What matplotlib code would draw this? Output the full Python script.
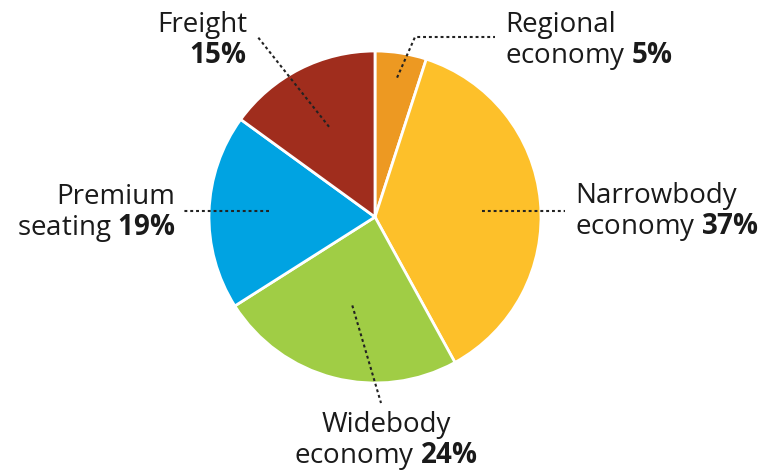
import numpy as np
import matplotlib.pyplot as plt

W, H = 769, 471

categories = ["Regional\neconomy", "Narrowbody\neconomy", "Widebody\neconomy",
              "Premium\nseating", "Freight"]
shares = [5, 37, 24, 19, 15]
colors = ["#ED9922", "#FDC02A", "#A0CD45", "#00A3E2", "#A02D1D"]

# layout in pixel units measured from the top-left corner
cx, cy, R = 375, 217, 166
leaders = [
    dict(r=0.85, path=[(415, 37), (495, 37)], text=(505, 32), ha="left", horiz=False),
    dict(r=0.65, path=[(565, 211)], text=(575, 203), ha="left", horiz=True),
    dict(r=0.55, path=[(381, 403)], text=(386, 432), ha="center", horiz=False),
    dict(r=0.64, path=[(183, 211)], text=(175, 204), ha="right", horiz=True),
    dict(r=0.61, path=[(257, 36)], text=(247, 32), ha="right", horiz=False),
]
LINE = 31

plt.rcParams["font.family"] = ["Open Sans", "DejaVu Sans"]
plt.rcParams["mathtext.fontset"] = "custom"
plt.rcParams["mathtext.rm"] = "Open Sans"
plt.rcParams["mathtext.bf"] = "Open Sans:bold"

fig = plt.figure(figsize=(W / 100, H / 100), dpi=100)
ax = fig.add_axes([0, 0, 1, 1])

wedges, _ = ax.pie(shares, colors=colors, startangle=90, counterclock=False,
                   center=(cx, H - cy), radius=R, frame=True,
                   wedgeprops=dict(edgecolor="white", linewidth=2))
ax.set_xlim(0, W)
ax.set_ylim(0, H)
ax.set_aspect("equal")
ax.axis("off")

fs = 20
ink = "#1a1a1a"
for w, cat, val, ld in zip(wedges, categories, shares, leaders):
    mid = np.deg2rad((w.theta1 + w.theta2) / 2)
    x0 = cx + ld["r"] * R * np.cos(mid)
    y0 = (H - cy) + ld["r"] * R * np.sin(mid)
    pts = [(px, H - py) for px, py in ld["path"]]
    if ld["horiz"]:
        y0 = pts[0][1]
    xs, ys = zip(*([(x0, y0)] + pts))
    ax.plot(xs, ys, color="#222222", lw=1.5, ls=(0, (1.4, 1.4)))

    lines = cat.split("\n")
    tx, ty = ld["text"]
    ax.text(tx, H - ty, lines[0], ha=ld["ha"], va="baseline", fontsize=fs, color=ink)
    pct = r"$\mathbf{" + f"{val}" + r"\%}$"
    second = (lines[1] + " " + pct) if len(lines) > 1 else pct
    ax.text(tx, H - ty - LINE, second, ha=ld["ha"], va="baseline",
            fontsize=fs, color=ink)

fig.savefig("out.png", dpi=100)
